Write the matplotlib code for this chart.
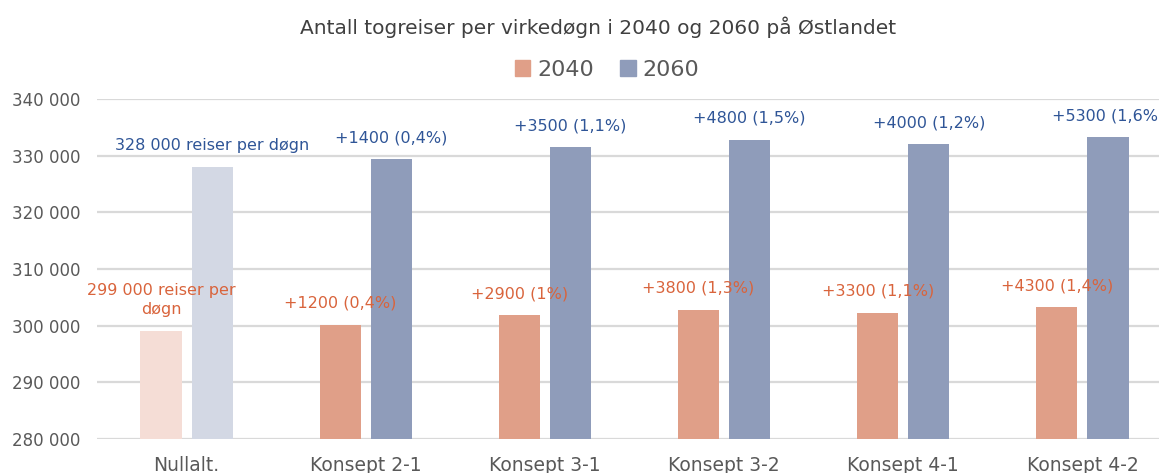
import matplotlib.pyplot as plt
import numpy as np
from matplotlib.patches import Patch

categories = ["Nullalt.", "Konsept 2-1", "Konsept 3-1", "Konsept 3-2", "Konsept 4-1", "Konsept 4-2"]
base_2040 = 299000
base_2060 = 328000
delta_2040 = [0, 1200, 2900, 3800, 3300, 4300]
delta_2060 = [0, 1400, 3500, 4800, 4000, 5300]
labels_2040 = ["299 000 reiser per\ndøgn", "+1200 (0,4%)", "+2900 (1%)", "+3800 (1,3%)", "+3300 (1,1%)", "+4300 (1,4%)"]
labels_2060 = ["328 000 reiser per døgn", "+1400 (0,4%)", "+3500 (1,1%)", "+4800 (1,5%)", "+4000 (1,2%)", "+5300 (1,6%)"]

vals_2040 = [base_2040 + d for d in delta_2040]
vals_2060 = [base_2060 + d for d in delta_2060]

c2040 = "#E09F88"
c2060 = "#8F9CBA"
c2040_light = "#F5DDD6"
c2060_light = "#D3D8E4"
txt2040 = "#D9643C"
txt2060 = "#2F5597"
grey = "#595959"

fig = plt.figure(figsize=(11.59, 4.73), dpi=100)
ax = fig.add_axes([97 / 1159, 34 / 473, 1075 / 1159, 340 / 473])

x = np.arange(len(categories))
w = 0.23
gap = 0.028
cols40 = [c2040_light] + [c2040] * (len(categories) - 1)
cols60 = [c2060_light] + [c2060] * (len(categories) - 1)
ax.bar(x - w / 2 - gap, [v - 280000 for v in vals_2040], w, bottom=280000, color=cols40, zorder=2)
ax.bar(x + w / 2 + gap, [v - 280000 for v in vals_2060], w, bottom=280000, color=cols60, zorder=2)

# verdietiketter over stolpene
for i in range(len(categories)):
    ax.annotate(labels_2040[i], (x[i] - w / 2 - gap, vals_2040[i]), xytext=(0, 10),
                textcoords="offset points", ha="center", va="bottom", color=txt2040,
                fontsize=11.5, linespacing=1.35, zorder=5, annotation_clip=False)
    ax.annotate(labels_2060[i], (x[i] + w / 2 + gap, vals_2060[i]), xytext=(0, 10),
                textcoords="offset points", ha="center", va="bottom", color=txt2060,
                fontsize=11.5, zorder=5, annotation_clip=False)

ax.set_xlim(-0.5, len(categories) - 0.5)
ax.set_ylim(280000, 340000)
ax.set_yticks(np.arange(280000, 340001, 10000))
ax.set_yticklabels([f"{v:,}".replace(",", " ") for v in range(280000, 340001, 10000)])
ax.set_xticks(x)
ax.set_xticklabels(categories)
ax.tick_params(axis="y", length=0, pad=12, labelsize=12, labelcolor=grey)
ax.tick_params(axis="x", length=0, pad=12, labelsize=13.5, labelcolor=grey)
ax.grid(axis="y", color="#D9D9D9", linewidth=1.6, zorder=0)
ax.set_axisbelow(True)
for s in ax.spines.values():
    s.set_visible(False)

fig.text(598 / 1159, 1 - 27 / 473, "Antall togreiser per virkedøgn i 2040 og 2060 på Østlandet",
         ha="center", va="center", fontsize=14.5, color="#404040")

handles = [Patch(color=c2040), Patch(color=c2060)]
fig.legend(handles, ["2040", "2060"], loc="center", bbox_to_anchor=(607 / 1159, 1 - 70 / 473),
           ncol=2, frameon=False, handlelength=0.7, handleheight=0.7, handletextpad=0.3,
           columnspacing=1.2, prop={"size": 16}, labelcolor=grey)

fig.savefig("out.png", dpi=100)
